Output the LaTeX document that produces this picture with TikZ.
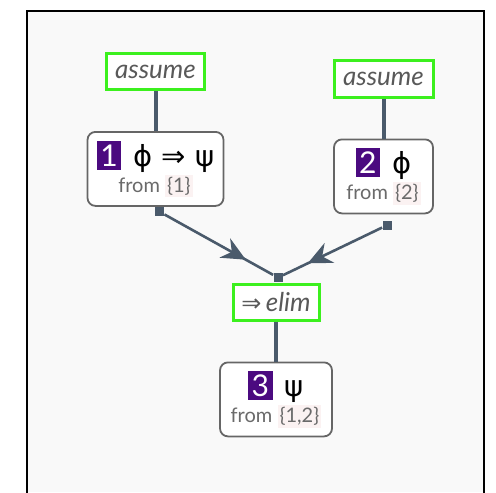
\documentclass[tikz,border=0pt]{standalone}
\usepackage{fontspec}
\setmainfont{Lato}
\newfontfamily\symfont{DejaVu Sans}
\usepackage{xcolor}
\usetikzlibrary{arrows.meta,positioning,decorations.markings}
\definecolor{canvas}{HTML}{F9F9F9}
\definecolor{rulegreen}{RGB}{60,240,30}
\definecolor{slate}{HTML}{4A5A6B}
\definecolor{badgec}{HTML}{4B0A80}
\definecolor{setbg}{HTML}{FBF2F2}
\definecolor{textgray}{HTML}{6A6A6A}
\newcommand{\stepno}[1]{{\setlength{\fboxsep}{1.8pt}\colorbox{badgec}{\textcolor{white}{\fontsize{15}{15}\selectfont #1}}}}
\newcommand{\fromset}[1]{{\fontsize{10}{12}\selectfont\color{textgray}from\ \setlength{\fboxsep}{1pt}\colorbox{setbg}{\{#1\}}}}
\newcommand{\formula}[1]{{\symfont\fontsize{14.5}{17}\selectfont #1}}
\tikzset{
  rulebox/.style={draw=rulegreen, line width=1.5pt, fill=white, inner sep=2pt,
                  minimum height=18pt, font=\fontsize{13}{15}\selectfont\itshape,
                  text=black!65},
  proof/.style={draw=black!60, line width=0.9pt, rounded corners=4pt, fill=white,
                align=center, minimum height=37pt, inner sep=3pt},
  port/.style={fill=slate, inner sep=0pt, minimum size=4.5pt},
  stem/.style={slate, line width=2pt},
  link/.style={slate, line width=1.3pt, postaction={decorate},
               decoration={markings, mark=at position 0.75 with
                 {\arrow{Stealth[length=12pt,width=11pt,inset=4pt]}}}},
  frame/.style={black, line width=1.2pt},
}
\begin{document}
\begin{tikzpicture}[x=0.5pt, y=-0.5pt, node distance=20pt]
  \useasboundingbox (0,0) rectangle (496,492);
  % canvas
  \fill[canvas] (27,11) rectangle (484,492);
  \draw[frame] (27,493) -- (27,11) -- (484,11) -- (484,493);
  % assumptions
  \node[rulebox, minimum width=49pt] (a1) at (155.5,71.5) {assume};
  \node[proof, minimum width=68pt, below=of a1] (n1)
    {\stepno{1}\hspace{6pt}\formula{ϕ ⇒ ψ}\\[1pt]\fromset{1}};
  \node[rulebox, minimum width=49.5pt] (a2) at (383.5,79) {assume};
  \node[proof, minimum width=49.5pt, below=of a2] (n2)
    {\stepno{2}\hspace{6pt}\formula{ϕ}\\[1pt]\fromset{2}};
  % elimination
  \node[rulebox, minimum width=43pt] (el) at (276,302) {{\symfont\upshape\fontsize{12}{15}\selectfont ⇒}\,elim};
  \node[proof, minimum width=56pt, below=of el] (n3)
    {\stepno{3}\hspace{6pt}\formula{ψ}\\[1pt]\fromset{1,2}};
  % ports
  \node[port, anchor=north] (p1) at ([xshift=2pt]n1.south) {};
  \node[port, anchor=north] (p2) at ([xshift=1.75pt,yshift=-3pt]n2.south) {};
  \node[port, anchor=south] (pe) at ([xshift=1pt]el.north) {};
  \draw[stem] (a1) -- (n1);
  \draw[stem] (a2) -- (n2);
  \draw[stem] (el) -- (n3);
  \draw[link] (p1) -- (pe);
  \draw[link] (p2) -- (pe);
\end{tikzpicture}
\end{document}
